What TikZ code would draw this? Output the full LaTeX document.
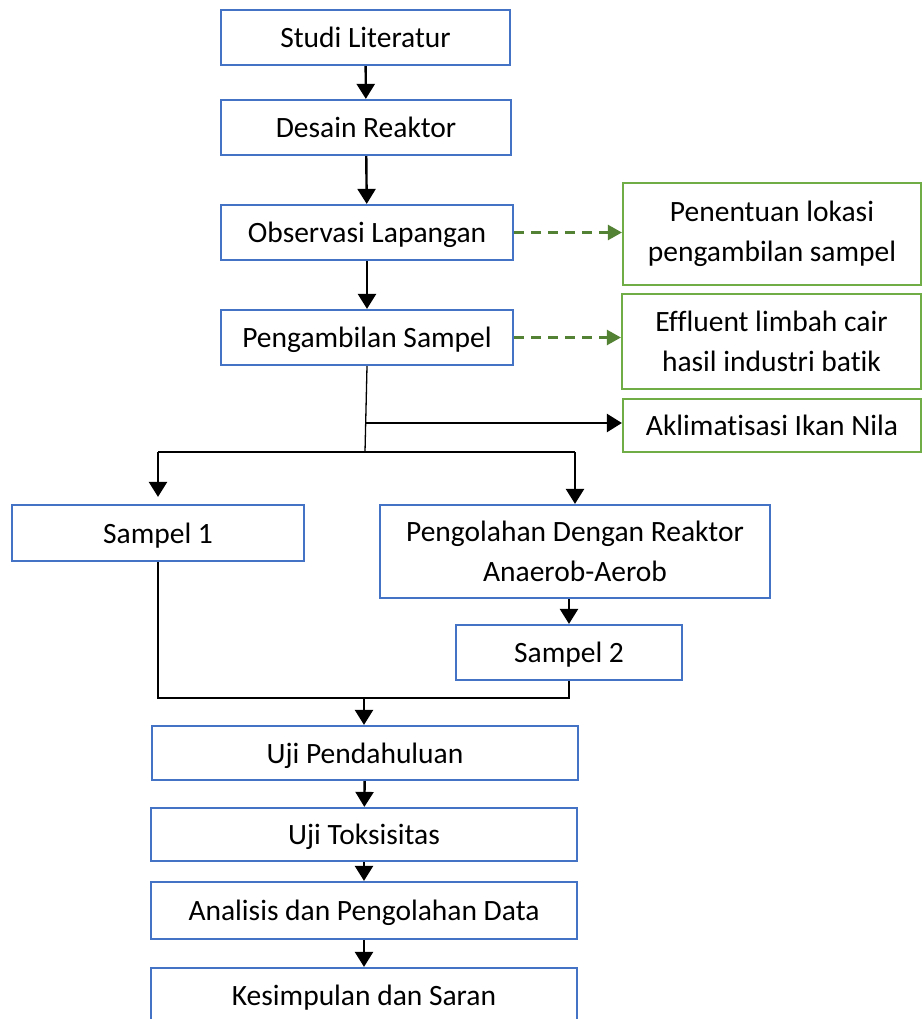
\documentclass[tikz,border=0pt]{standalone}
\usepackage{fontspec}
\setmainfont{Carlito}[Ligatures={NoCommon}]
\usetikzlibrary{arrows.meta,positioning}
\definecolor{boxblue}{RGB}{68,114,196}
\definecolor{boxgreen}{RGB}{112,173,71}
\definecolor{dashgreen}{RGB}{84,130,53}

\begin{document}
\begin{tikzpicture}[x=1pt, y=-1pt,
  box/.style={rectangle, draw=#1, line width=2.2pt, fill=white,
              align=center, inner sep=0pt,
              font=\fontsize{29.5}{40}\selectfont},
  oneline/.style={text height=22pt, text depth=1.5pt},
  arr/.style={-{Triangle[length=15pt, width=18pt]}, line width=2.4pt},
  darr/.style={-{Triangle[length=14pt, width=15pt]}, line width=2.5pt,
               dashgreen, dash pattern=on 10pt off 7pt},
  ln/.style={line width=1.3pt}
]
\useasboundingbox (0,0) rectangle (922,1019);

%% -- Main column ------------------------------------------------
\node[box=boxblue, oneline, minimum width=289pt, minimum height=55pt] (studi) at (365.5,37.5) {Studi Literatur};
\node[box=boxblue, oneline, minimum width=290pt, minimum height=55pt] (desain) at (366,127.5) {Desain Reaktor};
\node[box=boxblue, oneline, minimum width=292pt, minimum height=55pt] (observasi) at (367,232.5) {Observasi Lapangan};
\node[box=boxblue, oneline, minimum width=292pt, minimum height=55pt] (ambil) at (367,337.5) {Pengambilan Sampel};

%% -- Side boxes -------------------------------------------------
\node[box=boxgreen, minimum width=298pt, minimum height=102pt] (lokasi) at (772,234) {Penentuan lokasi\\pengambilan sampel};
\node[box=boxgreen, minimum width=299pt, minimum height=95pt] (effluent) at (771.5,341.5) {Effluent limbah cair\\hasil industri batik};
\node[box=boxgreen, oneline, minimum width=298pt, minimum height=53pt] (aklim) at (772,425.5) {Aklimatisasi Ikan Nila};

%% -- Branches ---------------------------------------------------
\node[box=boxblue, oneline, minimum width=292pt, minimum height=56pt] (sampel1) at (158,533) {Sampel 1};
\node[box=boxblue, minimum width=390pt, minimum height=93pt] (olah) at (575,551.5) {Pengolahan Dengan Reaktor\\Anaerob-Aerob};
\node[box=boxblue, oneline, minimum width=226pt, minimum height=55pt] (sampel2) at (569,652.5) {Sampel 2};

%% -- Lower column -----------------------------------------------
\node[box=boxblue, oneline, minimum width=426pt, minimum height=54pt] (pendahuluan) at (365,753) {Uji Pendahuluan};
\node[box=boxblue, oneline, minimum width=426pt, minimum height=53pt] (toksik) at (364,834.5) {Uji Toksisitas};
\node[box=boxblue, oneline, minimum width=426pt, minimum height=57pt] (analisis) at (364,910.5) {Analisis dan Pengolahan Data};
\node[box=boxblue, oneline, minimum width=426pt, minimum height=54pt] (simpul) at (364,995) {Kesimpulan dan Saran};

\coordinate (split) at (365,452);
\coordinate (tee) at (365,423);
\coordinate (join) at (364,698);

%% -- Arrows -----------------------------------------------------
\draw[arr] (studi) -- (desain);
\draw[arr] (desain) -- (observasi);
\draw[arr] (observasi) -- (ambil);
\draw[darr] (observasi.east) -- (observasi.east -| lokasi.west);
\draw[darr] (ambil.east) -- (ambil.east -| effluent.west);

\draw[ln] (ambil.south) -- (split);
\draw[arr] (tee) -- (tee -| aklim.west);
\draw[ln] (split -| sampel1) -- (split -| olah);
\draw[arr, shorten >=7pt] (split -| sampel1) -- (sampel1.north);
\draw[arr] (split -| olah) -- (olah.north);
\draw[arr] (olah.south -| sampel2) -- (sampel2.north);

\draw[ln] (sampel1.south) |- (join) -| (sampel2.south);
\draw[arr] (join) -- (join |- pendahuluan.north);
\draw[arr] (pendahuluan) -- (toksik);
\draw[arr] (toksik) -- (analisis);
\draw[arr] (analisis) -- (simpul);

\end{tikzpicture}
\end{document}
